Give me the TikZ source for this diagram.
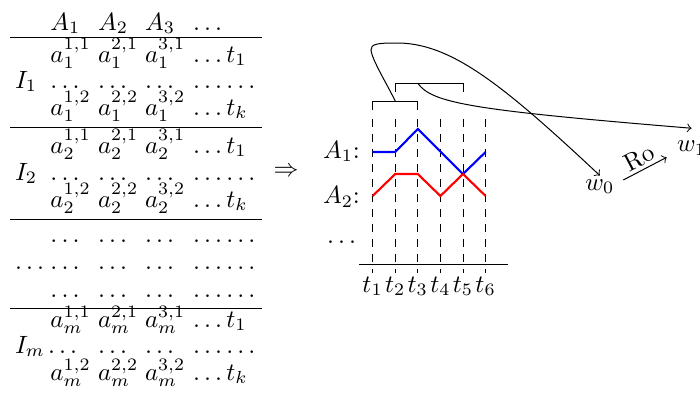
\documentclass[tikz,border=0pt]{standalone}
\tikzset{
  cell/.style={anchor=base west, inner sep=0pt, outer sep=0pt},
  rulel/.style={line width=0.45pt},
  gridl/.style={dashed, line width=0.4pt},
  serA/.style={blue, line width=0.85pt},
  serB/.style={red, line width=0.85pt},
  brk/.style={line width=0.4pt},
  link/.style={->, line width=0.4pt},
}
\begin{document}
\begin{tikzpicture}[x=0.4pt,y=-0.4pt]
\useasboundingbox (0,0) rectangle (700,394);

% ---------- table ----------
\node[cell] (hA1) at (50.5,30) {$A_1$};
\node[cell] (hA2) at (98,30) {$A_2$};
\node[cell] (hA3) at (145,30) {$A_3$};
\node[cell] (hdots) at (193,30) {$\dots$};

\foreach \y/\n in {37.5/1,127.5/2,219.5/3,308.5/4}{
  \coordinate (r\n a) at (10,\y);
  \coordinate (r\n b) at (262,\y);
  \draw[rulel] (r\n a) -- (r\n b);
}

\foreach \i/\ya/\yb/\yc/\xd in {1/62/88/115/50.5, 2/153/180/207/50.5, m/327/353/380/48}{
  \node[cell] (a\i-11) at (50.5,\ya) {$a_{\i}^{1,1}$};
  \node[cell] (a\i-21) at (98,\ya) {$a_{\i}^{2,1}$};
  \node[cell] (a\i-31) at (145,\ya) {$a_{\i}^{3,1}$};
  \node[cell] (a\i-t1) at (193,\ya) {$\dots t_1$};
  \node[cell] (I\i) at (15,\yb) {$I_{\i}$};
  \node[cell] (d\i-1) at (\xd,\yb) {$\dots$};
  \node[cell] (d\i-2) at (98,\yb) {$\dots$};
  \node[cell] (d\i-3) at (145,\yb) {$\dots$};
  \node[cell] (d\i-4) at (193,\yb) {$\dots\dots$};
  \node[cell] (a\i-12) at (50.5,\yc) {$a_{\i}^{1,2}$};
  \node[cell] (a\i-22) at (98,\yc) {$a_{\i}^{2,2}$};
  \node[cell] (a\i-32) at (145,\yc) {$a_{\i}^{3,2}$};
  \node[cell] (a\i-tk) at (193,\yc) {$\dots t_k$};
}

\foreach \r/\y in {1/242.5,2/269,3/297}{
  \node[cell] (e\r-1) at (50.5,\y) {$\dots$};
  \node[cell] (e\r-2) at (98,\y) {$\dots$};
  \node[cell] (e\r-3) at (145,\y) {$\dots$};
  \node[cell] (e\r-4) at (193,\y) {$\dots\dots$};
}
\node[cell] (e2-0) at (15,269) {$\dots$};

% ---------- implication ----------
\node (impl) at (286,172) {$\Rightarrow$};

% ---------- time chart ----------
\node[cell] (lA1) at (323,158) {$A_1$:};
\node[cell] (lA2) at (323,203.5) {$A_2$:};
\node[cell] (ldots) at (327,243.5) {$\dots$};

\foreach \k in {1,...,6}{
  \pgfmathsetmacro\xx{372.6+22.6*(\k-1)}
  \coordinate (g\k a) at (\xx,119);
  \coordinate (g\k b) at (\xx,273);
  \draw[gridl] (g\k a) -- (g\k b);
  \node[anchor=base] (tl\k) at (\xx,292) {$t_{\k}$};
}
\coordinate (ax0) at (359,264.3);
\coordinate (ax1) at (508,264.3);
\draw[line width=0.45pt] (ax0) -- (ax1);

\draw[serA] (372.6,152) -- (395.2,152) -- (417.8,129) -- (463,174) -- (485.6,152);
\draw[serB] (372.6,196) -- (395.2,174) -- (417.8,174) -- (440.4,196) -- (463,174) -- (485.6,196);

% brackets
\draw[brk] (372.6,110) -- (372.6,101) -- (417.8,101) -- (417.8,110);
\draw[brk] (395.2,92) -- (395.2,83.3) -- (463,83.3) -- (463,92);
\coordinate (b1) at (395.2,101);
\coordinate (b2) at (417.8,83.3);

% worlds
\node[anchor=base west, inner sep=0pt, outer sep=1.5pt] (w0) at (581.5,190) {$w_0$};
\node[anchor=base west, inner sep=0pt, outer sep=5pt] (w1) at (664.5,151.5) {$w_1$};

\draw[link] (b1) .. controls (387,84) and (372,60) .. (371,50)
                 .. controls (370.5,44) and (378,43) .. (395,43)
                 .. controls (450,42) and (502,84) .. (w0.north);
\draw[link] (b2) .. controls (432,103) and (470,110) .. (w1.north);

\coordinate (ro0) at (623.3,180);
\coordinate (ro1) at (666.7,157.3);
\draw[link] (ro0) -- node[midway, above, sloped, inner sep=1.2pt] (rolab) {Ro} (ro1);
\end{tikzpicture}
\end{document}
